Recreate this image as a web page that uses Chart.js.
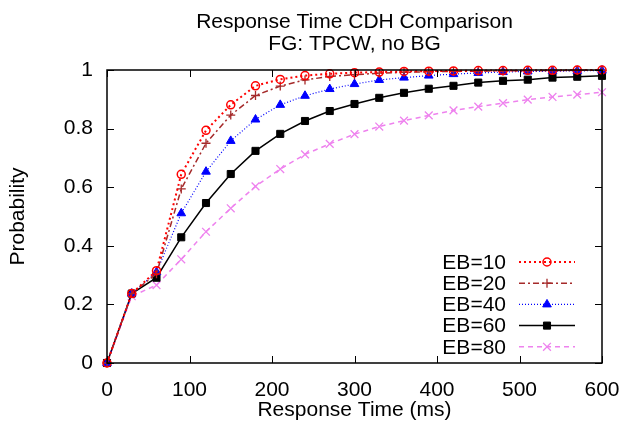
<!DOCTYPE html>
<html>
<head>
<meta charset="utf-8">
<script src="https://cdn.jsdelivr.net/npm/chart.js@4.4.1/dist/chart.umd.min.js"></script>
<style>
  html, body { margin: 0; padding: 0; background: #fff; }
  #wrap { width: 624px; height: 427px; }
</style>
</head>
<body>
<div id="wrap"><canvas id="cdhChart" width="624" height="427"></canvas></div>
<script>
// response time in ms (x values of each sample)
const times = [0, 30, 60, 90, 120, 150, 180, 210, 240, 270, 300, 330, 360, 390, 420, 450, 480, 510, 540, 570, 600];

// cumulative probabilities
const eb10 = [0, 0.237, 0.315, 0.644, 0.794, 0.881, 0.946, 0.968, 0.981, 0.987, 0.991, 0.993, 0.995, 0.996, 0.997, 0.998, 0.998, 0.999, 0.999, 1.0, 1.0];
const eb20 = [0, 0.237, 0.305, 0.594, 0.750, 0.846, 0.913, 0.945, 0.966, 0.978, 0.984, 0.989, 0.992, 0.994, 0.995, 0.996, 0.997, 0.998, 0.998, 0.999, 0.999];
const eb40 = [0, 0.237, 0.310, 0.511, 0.653, 0.758, 0.831, 0.881, 0.912, 0.935, 0.952, 0.966, 0.974, 0.981, 0.986, 0.990, 0.993, 0.995, 0.996, 0.997, 0.998];
const eb60 = [0, 0.237, 0.291, 0.429, 0.546, 0.645, 0.724, 0.782, 0.826, 0.860, 0.884, 0.905, 0.922, 0.936, 0.946, 0.957, 0.963, 0.967, 0.974, 0.977, 0.980];
const eb80 = [0, 0.228, 0.266, 0.354, 0.448, 0.528, 0.603, 0.662, 0.712, 0.748, 0.781, 0.807, 0.827, 0.845, 0.862, 0.875, 0.887, 0.899, 0.908, 0.916, 0.924];

const seriesLabels = ['EB=10', 'EB=20', 'EB=40', 'EB=60', 'EB=80'];
const xTicks = [0, 100, 200, 300, 400, 500, 600];
const yTicks = [0, 0.2, 0.4, 0.6, 0.8, 1];
const titleLines = ['Response Time CDH Comparison', 'FG: TPCW, no BG'];

const FONT = '"Liberation Sans", Arial, Helvetica, sans-serif';

function toPoints(vals) {
    return vals.map((v, i) => ({ x: times[i], y: v }));
}

const styles = [
    { color: '#ff0000', dash: [2, 3], width: 2, pointStyle: 'circle', radius: 4, fill: false, pbw: 1.5 },
    { color: '#a52a2a', dash: [6, 3, 2, 3], width: 1.5, pointStyle: 'cross', radius: 4.5, fill: false, pbw: 1.3 },
    { color: '#0000ff', dash: [1, 2], width: 1.2, pointStyle: 'triangle', radius: 5, fill: true, pbw: 1 },
    { color: '#000000', dash: [], width: 1.5, pointStyle: 'rect', radius: 5, fill: true, pbw: 1 },
    { color: '#ee82ee', dash: [5, 4], width: 1.5, pointStyle: 'crossRot', radius: 5.5, fill: false, pbw: 1.3 }
];

const seriesData = [eb10, eb20, eb40, eb60, eb80];

const datasets = seriesData.map((vals, i) => {
    const s = styles[i];
    return {
        label: seriesLabels[i],
        data: toPoints(vals),
        borderColor: s.color,
        backgroundColor: s.fill ? s.color : 'rgba(0,0,0,0)',
        borderWidth: s.width,
        borderDash: s.dash,
        pointStyle: s.pointStyle,
        pointRadius: s.radius,
        pointBorderWidth: s.pbw,
        pointBorderColor: s.color,
        pointBackgroundColor: s.fill ? s.color : 'rgba(0,0,0,0)',
        tension: 0,
        fill: false,
        clip: 8
    };
});

// gnuplot-like frame: border, inward ticks on all four sides
const framePlugin = {
    id: 'frame',
    afterDatasetsDraw(chart) {
        const ctx = chart.ctx;
        const a = chart.chartArea;
        const xs = chart.scales.x, ys = chart.scales.y;
        const tl = 7;
        ctx.save();
        ctx.strokeStyle = '#000';
        ctx.lineWidth = 1;
        ctx.beginPath();
        xTicks.forEach(t => {
            const px = Math.round(xs.getPixelForValue(t)) + 0.5;
            ctx.moveTo(px, a.bottom); ctx.lineTo(px, a.bottom - tl);
            ctx.moveTo(px, a.top); ctx.lineTo(px, a.top + tl);
        });
        yTicks.forEach(t => {
            const py = Math.round(ys.getPixelForValue(t)) + 0.5;
            ctx.moveTo(a.left, py); ctx.lineTo(a.left + tl, py);
            ctx.moveTo(a.right, py); ctx.lineTo(a.right - tl, py);
        });
        ctx.stroke();
        ctx.lineWidth = 1.5;
        ctx.strokeRect(a.left, a.top, a.right - a.left, a.bottom - a.top);

        // title centred over the plot area
        ctx.fillStyle = '#000';
        ctx.font = '21px ' + FONT;
        ctx.textAlign = 'center';
        ctx.textBaseline = 'alphabetic';
        const cx = (a.left + a.right) / 2;
        ctx.fillText(titleLines[0], cx, 28);
        ctx.fillText(titleLines[1], cx, 50);

        // key in the lower right corner
        const keyTextRight = 506, lineL = 519, lineR = 575, keyTop = 262, keyStep = 21.2;
        chart.data.datasets.forEach((ds, i) => {
            const y = keyTop + i * keyStep;
            ctx.textAlign = 'right';
            ctx.textBaseline = 'middle';
            ctx.fillStyle = '#000';
            ctx.fillText(ds.label, keyTextRight, y + 1);
            ctx.strokeStyle = ds.borderColor;
            ctx.lineWidth = ds.borderWidth;
            ctx.setLineDash(ds.borderDash);
            ctx.beginPath();
            ctx.moveTo(lineL, y); ctx.lineTo(lineR, y);
            ctx.stroke();
            ctx.setLineDash([]);
            ctx.fillStyle = ds.pointBackgroundColor;
            ctx.strokeStyle = ds.pointBorderColor;
            ctx.lineWidth = ds.pointBorderWidth;
            Chart.helpers.drawPoint(ctx, {
                pointStyle: ds.pointStyle,
                radius: ds.pointRadius,
                rotation: 0,
                borderWidth: ds.pointBorderWidth
            }, (lineL + lineR) / 2, y);
        });
        ctx.restore();
    }
};

const chartCtx = document.getElementById('cdhChart').getContext('2d');
new Chart(chartCtx, {
    type: 'line',
    data: { datasets: datasets },
    plugins: [framePlugin],
    options: {
        responsive: false,
        animation: false,
        devicePixelRatio: 1,
        layout: { padding: { top: 70, right: 22, left: 0, bottom: 0 } },
        plugins: {
            legend: { display: false },
            title: { display: false },
            tooltip: { enabled: false }
        },
        scales: {
            x: {
                type: 'linear',
                min: 0,
                max: 600,
                afterFit: s => { s.height = 64; s.paddingLeft = 0; s.paddingRight = 0; },
                afterBuildTicks: s => { s.ticks = xTicks.map(v => ({ value: v })); },
                grid: { display: false, drawTicks: false },
                border: { display: false },
                ticks: { color: '#000', font: { family: FONT, size: 21 }, padding: 15, maxRotation: 0 },
                title: {
                    display: true,
                    text: 'Response Time (ms)',
                    color: '#000',
                    font: { family: FONT, size: 21 },
                    padding: { top: 0, bottom: 4 }
                }
            },
            y: {
                type: 'linear',
                min: 0,
                max: 1,
                afterFit: s => { s.width = 107; s.paddingTop = 0; s.paddingBottom = 0; },
                afterBuildTicks: s => { s.ticks = yTicks.map(v => ({ value: v })); },
                grid: { display: false, drawTicks: false },
                border: { display: false },
                ticks: { color: '#000', font: { family: FONT, size: 21 }, padding: 14, callback: v => String(v) },
                title: {
                    display: true,
                    text: 'Probability',
                    color: '#000',
                    font: { family: FONT, size: 21 },
                    padding: { top: 6, bottom: 0 }
                }
            }
        }
    }
});
</script>
</body>
</html>
